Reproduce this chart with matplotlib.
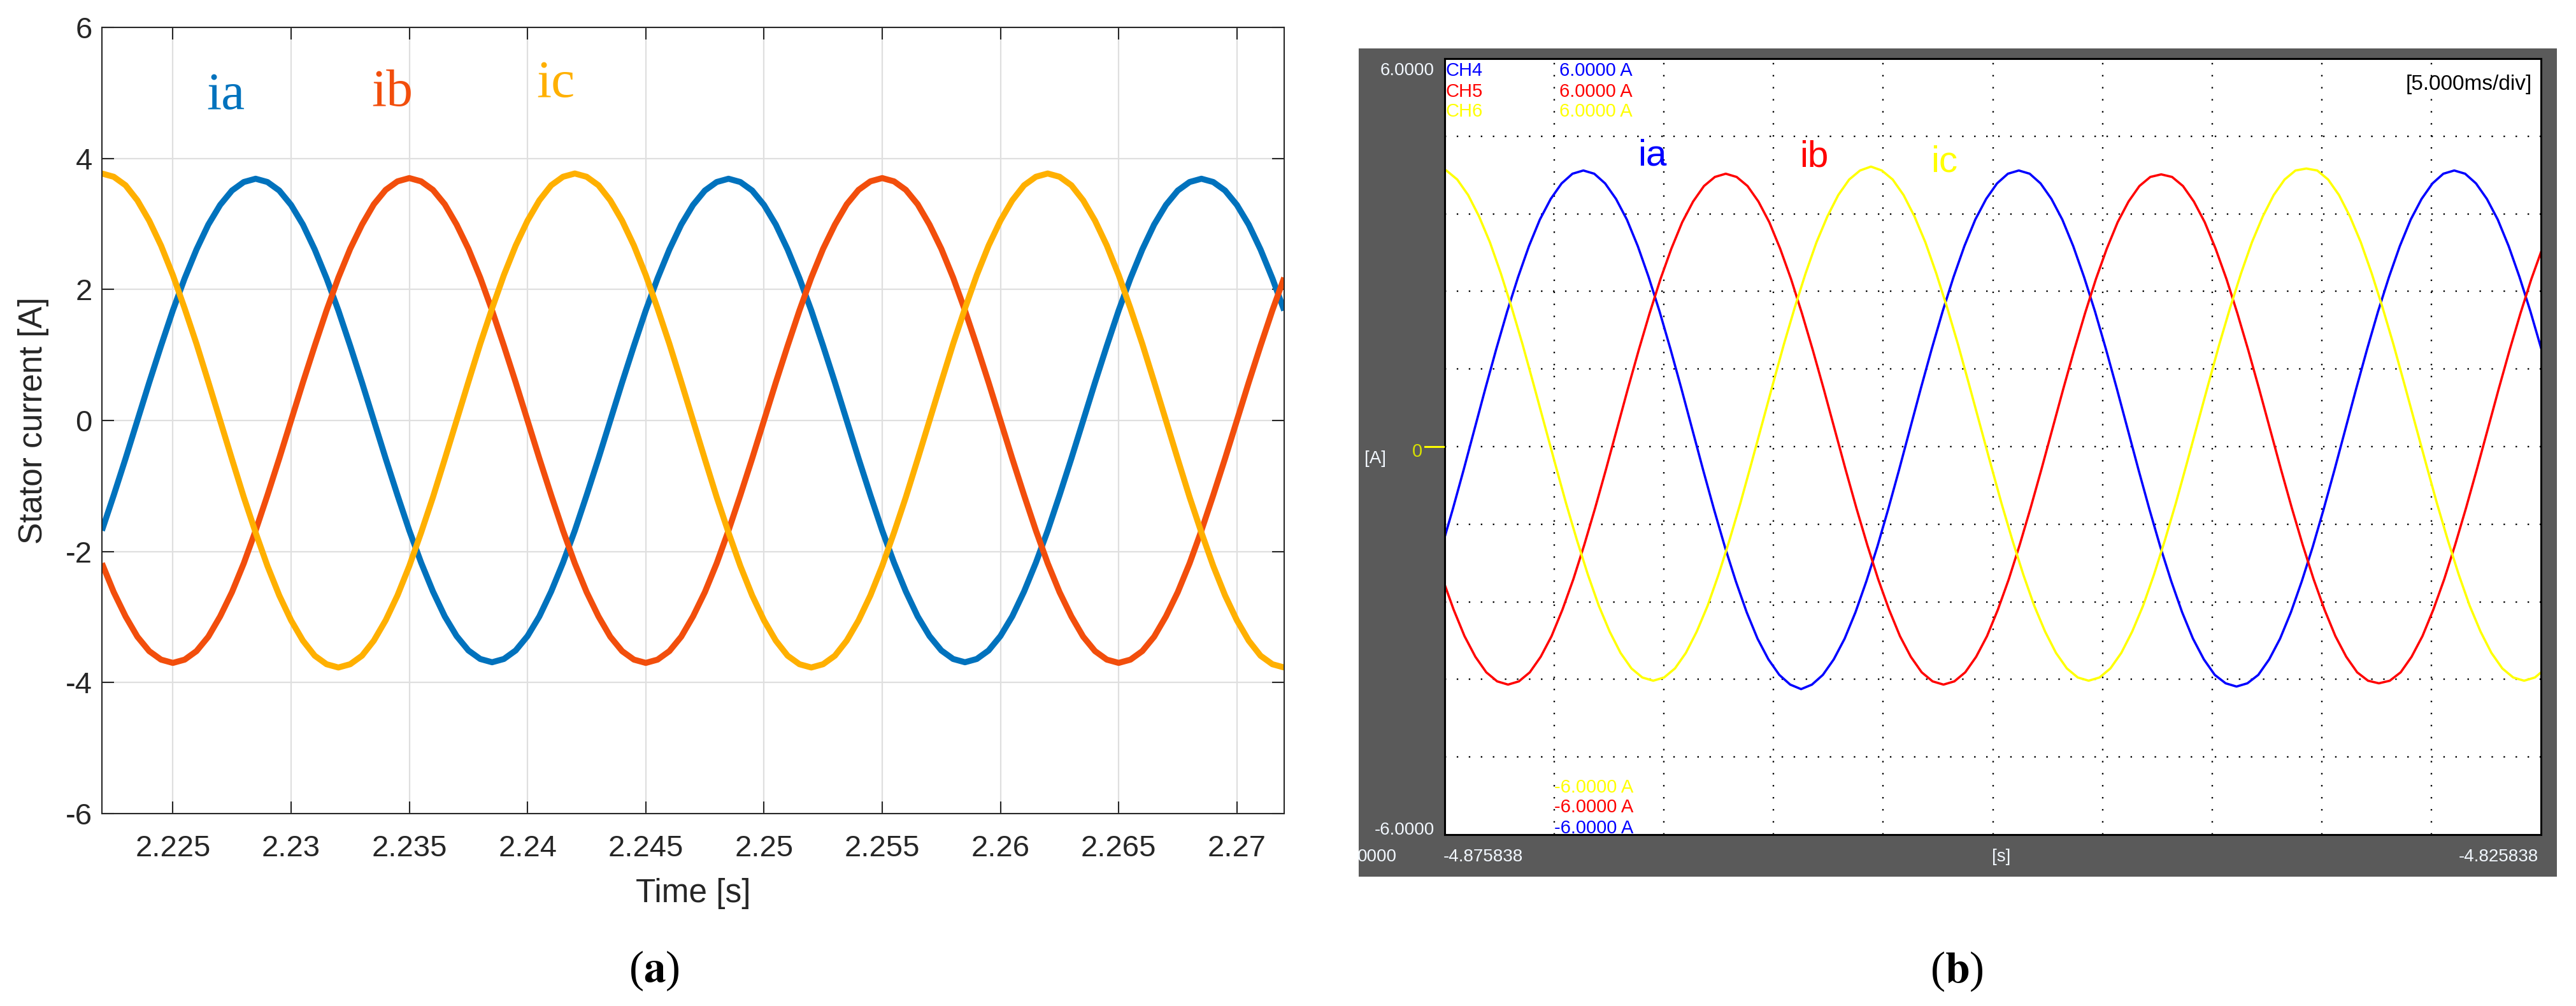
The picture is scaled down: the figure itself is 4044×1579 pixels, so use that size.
import numpy as np
import matplotlib
matplotlib.use('Agg')
import matplotlib.pyplot as plt
from matplotlib.patches import Rectangle
from matplotlib.lines import Line2D

plt.rcParams['font.family'] = 'Liberation Sans'
plt.rcParams['mathtext.fontset'] = 'stix'
plt.rcParams['axes.unicode_minus'] = False

# ---------------- data: (a) simulated stator currents, 0.5 ms samples from 2.222 s
t_a_start = 2.222
t_a_step = 0.0005
ia_sim = [-1.68, -1.14, -0.58, 0.00, 0.58, 1.14, 1.68, 2.17, 2.61, 2.99, 3.29, 3.51, 3.64,
          3.69, 3.64, 3.51, 3.29, 2.99, 2.61, 2.17, 1.68, 1.14, 0.58,
          0.00, -0.58, -1.14, -1.68, -2.17, -2.61, -2.99, -3.29, -3.51, -3.64,
          -3.69, -3.64, -3.51, -3.29, -2.99, -2.61, -2.17, -1.68, -1.14, -0.58,
          0.00, 0.58, 1.14, 1.68, 2.17, 2.61, 2.99, 3.29, 3.51, 3.64,
          3.69, 3.64, 3.51, 3.29, 2.99, 2.61, 2.17, 1.68, 1.14, 0.58,
          0.00, -0.58, -1.14, -1.68, -2.17, -2.61, -2.99, -3.29, -3.51, -3.64,
          -3.69, -3.64, -3.51, -3.29, -2.99, -2.61, -2.17, -1.68, -1.14, -0.58,
          0.00, 0.58, 1.14, 1.68, 2.17, 2.61, 2.99, 3.29, 3.51, 3.64,
          3.69, 3.64, 3.51, 3.29, 2.99, 2.61, 2.17, 1.68]
ib_sim = [-2.18, -2.62, -2.99, -3.30, -3.52, -3.65,
          -3.70, -3.65, -3.52, -3.30, -2.99, -2.62, -2.18, -1.68, -1.14, -0.58,
          0.00, 0.58, 1.14, 1.68, 2.18, 2.62, 2.99, 3.30, 3.52, 3.65,
          3.70, 3.65, 3.52, 3.30, 2.99, 2.62, 2.18, 1.68, 1.14, 0.58,
          0.00, -0.58, -1.14, -1.68, -2.18, -2.62, -2.99, -3.30, -3.52, -3.65,
          -3.70, -3.65, -3.52, -3.30, -2.99, -2.62, -2.18, -1.68, -1.14, -0.58,
          0.00, 0.58, 1.14, 1.68, 2.18, 2.62, 2.99, 3.30, 3.52, 3.65,
          3.70, 3.65, 3.52, 3.30, 2.99, 2.62, 2.18, 1.68, 1.14, 0.58,
          0.00, -0.58, -1.14, -1.68, -2.18, -2.62, -2.99, -3.30, -3.52, -3.65,
          -3.70, -3.65, -3.52, -3.30, -2.99, -2.62, -2.18, -1.68, -1.14, -0.58,
          0.00, 0.58, 1.14, 1.68, 2.18]
ic_sim = [3.77, 3.72, 3.59, 3.36, 3.05, 2.67, 2.22, 1.71, 1.17, 0.59,
          0.00, -0.59, -1.17, -1.71, -2.22, -2.67, -3.05, -3.36, -3.59, -3.72,
          -3.77, -3.72, -3.59, -3.36, -3.05, -2.67, -2.22, -1.71, -1.17, -0.59,
          0.00, 0.59, 1.17, 1.71, 2.22, 2.67, 3.05, 3.36, 3.59, 3.72,
          3.77, 3.72, 3.59, 3.36, 3.05, 2.67, 2.22, 1.71, 1.17, 0.59,
          0.00, -0.59, -1.17, -1.71, -2.22, -2.67, -3.05, -3.36, -3.59, -3.72,
          -3.77, -3.72, -3.59, -3.36, -3.05, -2.67, -2.22, -1.71, -1.17, -0.59,
          0.00, 0.59, 1.17, 1.71, 2.22, 2.67, 3.05, 3.36, 3.59, 3.72,
          3.77, 3.72, 3.59, 3.36, 3.05, 2.67, 2.22, 1.71, 1.17, 0.59,
          0.00, -0.59, -1.17, -1.71, -2.22, -2.67, -3.05, -3.36, -3.59, -3.72,
          -3.77]

xticks_a = [2.225, 2.23, 2.235, 2.24, 2.245, 2.25, 2.255, 2.26, 2.265, 2.27]
xticklabels_a = ['2.225', '2.23', '2.235', '2.24', '2.245', '2.25', '2.255', '2.26', '2.265', '2.27']
yticks_a = [-6, -4, -2, 0, 2, 4, 6]
yticklabels_a = ['-6', '-4', '-2', '0', '2', '4', '6']

# ---------------- data: (b) oscilloscope traces, time in ms from left edge of screen
scope_step = 0.4965
ch4_t0, ch5_t0, ch6_t0 = -0.13, -0.09, -0.42
ch4_ia = [-1.55, -0.97, -0.36, 0.27, 0.90, 1.51, 2.09, 2.62, 3.10, 3.51, 3.83, 4.07, 4.22,
          4.27, 4.22, 4.07, 3.83, 3.51, 3.10, 2.62, 2.09, 1.51, 0.90,
          0.27, -0.36, -0.97, -1.55, -2.08, -2.56, -2.97, -3.29, -3.53, -3.68,
          -3.75, -3.68, -3.53, -3.29, -2.97, -2.56, -2.08, -1.55, -0.97, -0.36,
          0.27, 0.90, 1.51, 2.09, 2.62, 3.10, 3.51, 3.83, 4.07, 4.22,
          4.27, 4.22, 4.07, 3.83, 3.51, 3.10, 2.62, 2.09, 1.51, 0.90,
          0.27, -0.36, -0.97, -1.55, -2.08, -2.56, -2.97, -3.29, -3.53, -3.66,
          -3.71, -3.66, -3.53, -3.29, -2.97, -2.56, -2.08, -1.55, -0.97, -0.36,
          0.27, 0.90, 1.51, 2.09, 2.62, 3.10, 3.51, 3.83, 4.07, 4.22,
          4.27, 4.22, 4.07, 3.83, 3.51, 3.10, 2.62, 2.09, 1.51]
ch5_ib = [-2.05, -2.52, -2.93, -3.25, -3.49, -3.63,
          -3.68, -3.63, -3.49, -3.25, -2.93, -2.52, -2.05, -1.52, -0.95, -0.35,
          0.27, 0.89, 1.49, 2.06, 2.59, 3.06, 3.47, 3.79, 4.03, 4.17,
          4.22, 4.17, 4.03, 3.79, 3.47, 3.06, 2.59, 2.06, 1.49, 0.89,
          0.27, -0.35, -0.95, -1.52, -2.05, -2.52, -2.93, -3.25, -3.49, -3.63,
          -3.68, -3.63, -3.49, -3.25, -2.93, -2.52, -2.05, -1.52, -0.95, -0.35,
          0.27, 0.89, 1.49, 2.06, 2.59, 3.06, 3.47, 3.79, 4.03, 4.17,
          4.21, 4.17, 4.03, 3.79, 3.47, 3.06, 2.59, 2.06, 1.49, 0.89,
          0.27, -0.35, -0.95, -1.52, -2.05, -2.52, -2.93, -3.25, -3.49, -3.62,
          -3.66, -3.62, -3.49, -3.25, -2.93, -2.52, -2.05, -1.52, -0.95, -0.35,
          0.27, 0.89, 1.49, 2.06, 2.59, 3.06]
ch6_ic = [4.32, 4.27, 4.13, 3.89, 3.56, 3.16, 2.68, 2.15, 1.58, 0.97,
          0.35, -0.27, -0.88, -1.45, -1.98, -2.46, -2.86, -3.19, -3.43, -3.57,
          -3.62, -3.57, -3.43, -3.19, -2.86, -2.46, -1.98, -1.45, -0.88, -0.27,
          0.35, 0.97, 1.58, 2.15, 2.68, 3.16, 3.56, 3.89, 4.13, 4.27,
          4.33, 4.27, 4.13, 3.89, 3.56, 3.16, 2.68, 2.15, 1.58, 0.97,
          0.35, -0.27, -0.88, -1.45, -1.98, -2.46, -2.86, -3.19, -3.43, -3.57,
          -3.62, -3.57, -3.43, -3.19, -2.86, -2.46, -1.98, -1.45, -0.88, -0.27,
          0.35, 0.97, 1.58, 2.15, 2.68, 3.16, 3.56, 3.89, 4.13, 4.27,
          4.30, 4.27, 4.13, 3.89, 3.56, 3.16, 2.68, 2.15, 1.58, 0.97,
          0.35, -0.27, -0.88, -1.45, -1.98, -2.46, -2.86, -3.19, -3.43, -3.57,
          -3.62, -3.57, -3.43]

# ---------------- figure
W, H = 4044, 1579
fig = plt.figure(figsize=(W / 100, H / 100), dpi=100)


def fx(px):
    return px / W


def fy(py):
    return 1 - py / H


txt = '#262626'
col_a = ['#0072BD', '#F24E0C', '#FFB000']

# ===== (a)
ax1 = fig.add_axes([fx(160), fy(1277), (2016 - 160) / W, (1277 - 43) / H])
t_a = t_a_start + t_a_step * np.arange(len(ia_sim))
ax1.plot(t_a, ia_sim, color=col_a[0], lw=6.8, solid_capstyle='butt')
ax1.plot(t_a, ib_sim, color=col_a[1], lw=6.8, solid_capstyle='butt')
ax1.plot(t_a, ic_sim, color=col_a[2], lw=6.8, solid_capstyle='butt')
ax1.set_xlim(2.222, 2.272)
ax1.set_ylim(-6, 6)
ax1.set_xticks(xticks_a)
ax1.set_xticklabels(xticklabels_a)
ax1.set_yticks(yticks_a)
ax1.set_yticklabels(yticklabels_a)
ax1.grid(True, color='#dfdfdf', lw=1.6)
ax1.set_axisbelow(True)
ax1.tick_params(direction='in', length=14, width=1.5, top=True, right=True,
                colors=txt, labelsize=34)
ax1.tick_params(axis='x', pad=24)
ax1.tick_params(axis='y', pad=11)
for s in ax1.spines.values():
    s.set_linewidth(1.5)
    s.set_color(txt)
ax1.set_xlabel('Time [s]', fontsize=37, color=txt, va='center')
ax1.xaxis.set_label_coords(0.5, -0.102)
ax1.set_ylabel('Stator current [A]', fontsize=37, color=txt, va='center')
ax1.yaxis.set_label_coords(-0.058, 0.5)

ax1.text(2.22724, 4.76, 'ia', color=col_a[0], fontsize=60, family='Liberation Serif',
         ha='center', va='baseline')
ax1.text(2.23427, 4.80, 'ib', color=col_a[1], fontsize=60, family='Liberation Serif',
         ha='center', va='baseline')
ax1.text(2.24119, 4.94, 'ic', color=col_a[2], fontsize=60, family='Liberation Serif',
         ha='center', va='baseline')

fig.text(fx(1027), fy(1541), r'($\mathbf{a}$)', fontsize=50, family='Liberation Serif',
         ha='center', va='baseline')

# ===== (b) oscilloscope screen
frame = Rectangle((fx(2133), fy(1376)), (4014 - 2133) / W, (1376 - 76) / H,
                  transform=fig.transFigure, facecolor='#5a5a5a', edgecolor='none', zorder=0)
fig.add_artist(frame)

ax2 = fig.add_axes([fx(2268), fy(1310), (3989 - 2268) / W, (1310 - 92) / H])
ax2.set_facecolor('white')
ax2.set_xlim(0, 50)
ax2.set_ylim(-6, 6)
ax2.set_xticks(np.arange(5, 50, 5))
ax2.set_yticks(np.arange(-4.8, 4.9, 1.2))
ax2.tick_params(length=0, labelbottom=False, labelleft=False)
ax2.grid(True, color='black', lw=1.7, linestyle=(0, (1, 7)))
ax2.set_axisbelow(True)
for s in ax2.spines.values():
    s.set_linewidth(2.2)
    s.set_color('black')

t4 = ch4_t0 + scope_step * np.arange(len(ch4_ia))
t5 = ch5_t0 + scope_step * np.arange(len(ch5_ib))
t6 = ch6_t0 + scope_step * np.arange(len(ch6_ic))
ax2.plot(t4, ch4_ia, color='#0000FF', lw=2.6)
ax2.plot(t5, ch5_ib, color='#FF0000', lw=2.6)
ax2.plot(t6, ch6_ic, color='#FFFF00', lw=2.6)

ch_cols = ['#0000FF', '#FF0000', '#FFFF00']
for name, c, yb in zip(['CH4', 'CH5', 'CH6'], ch_cols, [5.73, 5.41, 5.10]):
    ax2.text(0.05, yb, name, color=c, fontsize=21, va='baseline', ha='left')
    ax2.text(5.23, yb, '6.0000 A', color=c, fontsize=21, va='baseline', ha='left')
for c, yb in zip(['#FFFF00', '#FF0000', '#0000FF'], [-5.35, -5.66, -5.98]):
    ax2.text(5.0, yb, '-6.0000 A', color=c, fontsize=21, va='baseline', ha='left')
ax2.text(49.6, 5.52, '[5.000ms/div]', color='black', fontsize=24, va='baseline', ha='right')

ax2.text(9.47, 4.35, 'ia', color='#0000FF', fontsize=42, ha='center', va='baseline')
ax2.text(16.84, 4.33, 'ib', color='#FF0000', fontsize=42, ha='center', va='baseline')
ax2.text(22.78, 4.25, 'ic', color='#FFFF00', fontsize=42, ha='center', va='baseline')

# labels on the dark frame
wt = '#f2f8ff'
fig.text(fx(2252), fy(118), '6.0000', color=wt, fontsize=20, ha='right', va='baseline')
fig.text(fx(2252), fy(1310), '-6.0000', color=wt, fontsize=20, ha='right', va='baseline')
fig.text(fx(2159), fy(727), '[A]', color=wt, fontsize=20, ha='center', va='baseline')
fig.text(fx(2225), fy(717), '0', color='#d8e000', fontsize=21, ha='center', va='baseline')
fig.add_artist(Line2D([fx(2237), fx(2266)], [fy(701), fy(701)], transform=fig.transFigure,
                      color='#FFFF00', lw=2.2))
fig.text(fx(2131), fy(1352), '0000', color=wt, fontsize=20, ha='left', va='baseline')
fig.text(fx(2266), fy(1352), '-4.875838', color=wt, fontsize=20, ha='left', va='baseline')
fig.text(fx(3142), fy(1352), '[s]', color=wt, fontsize=20, ha='center', va='baseline')
fig.text(fx(3985), fy(1352), '-4.825838', color=wt, fontsize=20, ha='right', va='baseline')

fig.text(fx(3072), fy(1542), r'($\mathbf{b}$)', fontsize=50, family='Liberation Serif',
         ha='center', va='baseline')

fig.savefig('out.png', dpi=100, facecolor='white')
